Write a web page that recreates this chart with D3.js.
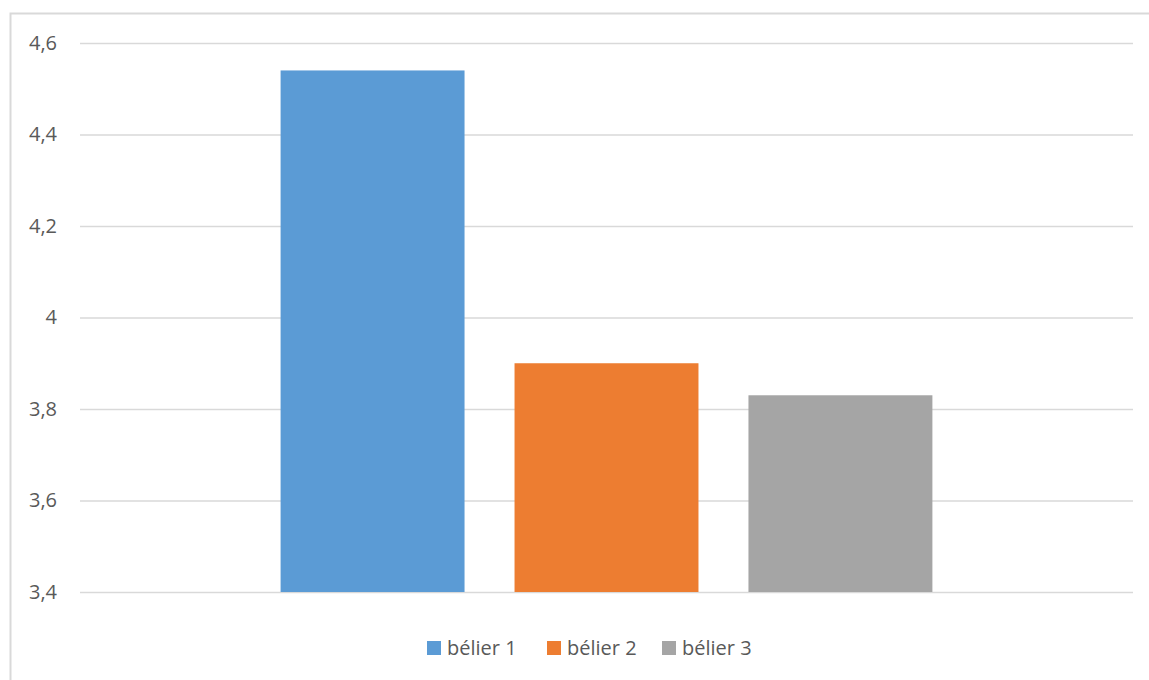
<!DOCTYPE html>
<html>
<head>
<meta charset="utf-8">
<script src="https://cdn.jsdelivr.net/npm/d3@7"></script>
<style>
  html, body { margin: 0; padding: 0; background: #fff; }
  svg { display: block; }
  text { font-family: "Open Sans", "Liberation Sans", sans-serif; fill: #595959; }
</style>
</head>
<body>
<svg id="chart" width="1149" height="680"></svg>
<script>
const categories = ["groupe"];
const seriesNames = ["bélier 1", "bélier 2", "bélier 3"];
const seriesValues = [4.54, 3.9, 3.83];
const seriesColors = ["#5B9BD5", "#ED7D31", "#A5A5A5"];
const yTicks = [3.4, 3.6, 3.8, 4.0, 4.2, 4.4, 4.6];
const yTickLabels = ["3,4", "3,6", "3,8", "4", "4,2", "4,4", "4,6"];

(function () {
const svg = d3.select("#chart");

// chart frame
svg.append("rect")
  .attr("x", 10.5).attr("y", 13.5)
  .attr("width", 1160).attr("height", 700)
  .attr("fill", "none").attr("stroke", "#D9D9D9").attr("stroke-width", 2);

const plotLeft = 80, plotRight = 1133, plotTop = 43, plotBottom = 592;

const y = d3.scaleLinear().domain([3.4, 4.6]).range([plotBottom, plotTop]);
const x0 = d3.scaleBand().domain(categories).range([plotLeft, plotRight])
  .paddingInner(0.381).paddingOuter(0.19);
const x1 = d3.scaleBand().domain(seriesNames).range([0, x0.bandwidth()])
  .paddingInner(0.2137).paddingOuter(0);

// gridlines + labels via axis
const yAxis = d3.axisLeft(y).tickValues(yTicks)
  .tickSize(-(plotRight - plotLeft))
  .tickPadding(23)
  .tickFormat((d, i) => yTickLabels[i]);

const gAxis = svg.append("g").attr("transform", `translate(${plotLeft},0)`).call(yAxis);
gAxis.select(".domain").remove();
gAxis.selectAll(".tick line").attr("stroke", "#D9D9D9").attr("stroke-width", 1.5);
gAxis.selectAll(".tick text")
  .attr("font-size", 20).attr("fill", "#595959")
  .style("font-family", '"Open Sans", "Liberation Sans", sans-serif');

// bars
const data = seriesNames.map((s, i) => ({ cat: categories[0], name: s, value: seriesValues[i], color: seriesColors[i] }));
svg.append("g").selectAll("rect")
  .data(data).join("rect")
  .attr("x", d => x0(d.cat) + x1(d.name))
  .attr("width", x1.bandwidth())
  .attr("y", d => y(d.value))
  .attr("height", d => y(3.4) - y(d.value))
  .attr("fill", d => d.color);

// legend
const legendX = [427, 547, 662];
const legend = svg.append("g");
data.forEach((d, i) => {
  const g = legend.append("g").attr("transform", `translate(${legendX[i]},641)`);
  g.append("rect").attr("width", 14).attr("height", 14).attr("fill", d.color);
  g.append("text").attr("x", 20).attr("y", 7).attr("dy", "0.35em")
    .attr("font-size", 20).text(d.name);
});
})();
</script>
</body>
</html>
